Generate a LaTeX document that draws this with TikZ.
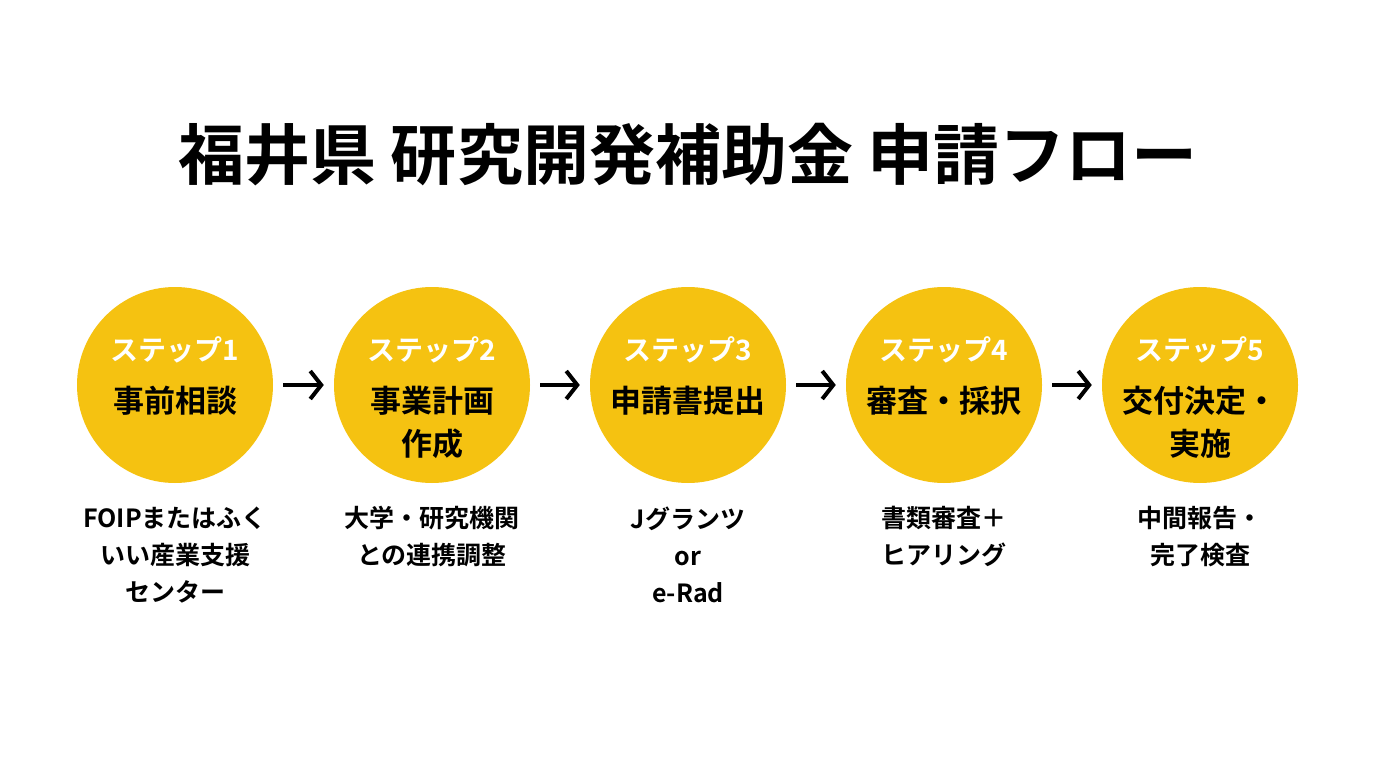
\documentclass[tikz,border=0pt]{standalone}
\usepackage{fontspec}
\setmainfont{Noto Sans CJK JP Bold}
\usetikzlibrary{arrows.meta}
\definecolor{stepyellow}{HTML}{F5C211}
\begin{document}
\begin{tikzpicture}[x=1pt,y=-1pt,
  circ/.style={circle,fill=stepyellow,minimum size=196pt,inner sep=0pt},
  lbl/.style={text=white,font=\fontsize{28}{32}\selectfont},
  main/.style={align=center,font=\fontsize{31}{43}\selectfont},
  desc/.style={align=center,anchor=north,font=\fontsize{25}{37}\selectfont},
  arr/.style={-{Straight Barb[length=11pt,width=28pt]},line width=4pt}]
\useasboundingbox (0,0) rectangle (1376,768);
\node (title) at (688,155) {\fontsize{66}{72}\selectfont 福井県 研究開発補助金 申請フロー};
\foreach \i/\x/\m/\d in {1/175/事前相談/{FOIPまたはふく\\いい産業支援\\センター},
  2/432/{事業計画\\作成}/{大学・研究機関\\との連携調整},
  3/688/申請書提出/{Jグランツ\\or\\e-Rad},
  4/944/審査・採択/{書類審査＋\\ヒアリング},
  5/1200/{交付決定・\\実施}/{中間報告・\\完了検査}}{
  \node[circ] (c\i) at (\x,385) {};
  \node[lbl] (l\i) at (\x,350) {ステップ\i};
  \node[main,anchor=north] (m\i) at (\x,383) {\m};
  \node[desc] (d\i) at (\x,503) {\d};
}
\foreach \a/\b in {1/2,2/3,3/4,4/5}{
  \draw[arr] ([xshift=10pt]c\a.east) -- ([xshift=-10pt]c\b.west);
}
\end{tikzpicture}
\end{document}
